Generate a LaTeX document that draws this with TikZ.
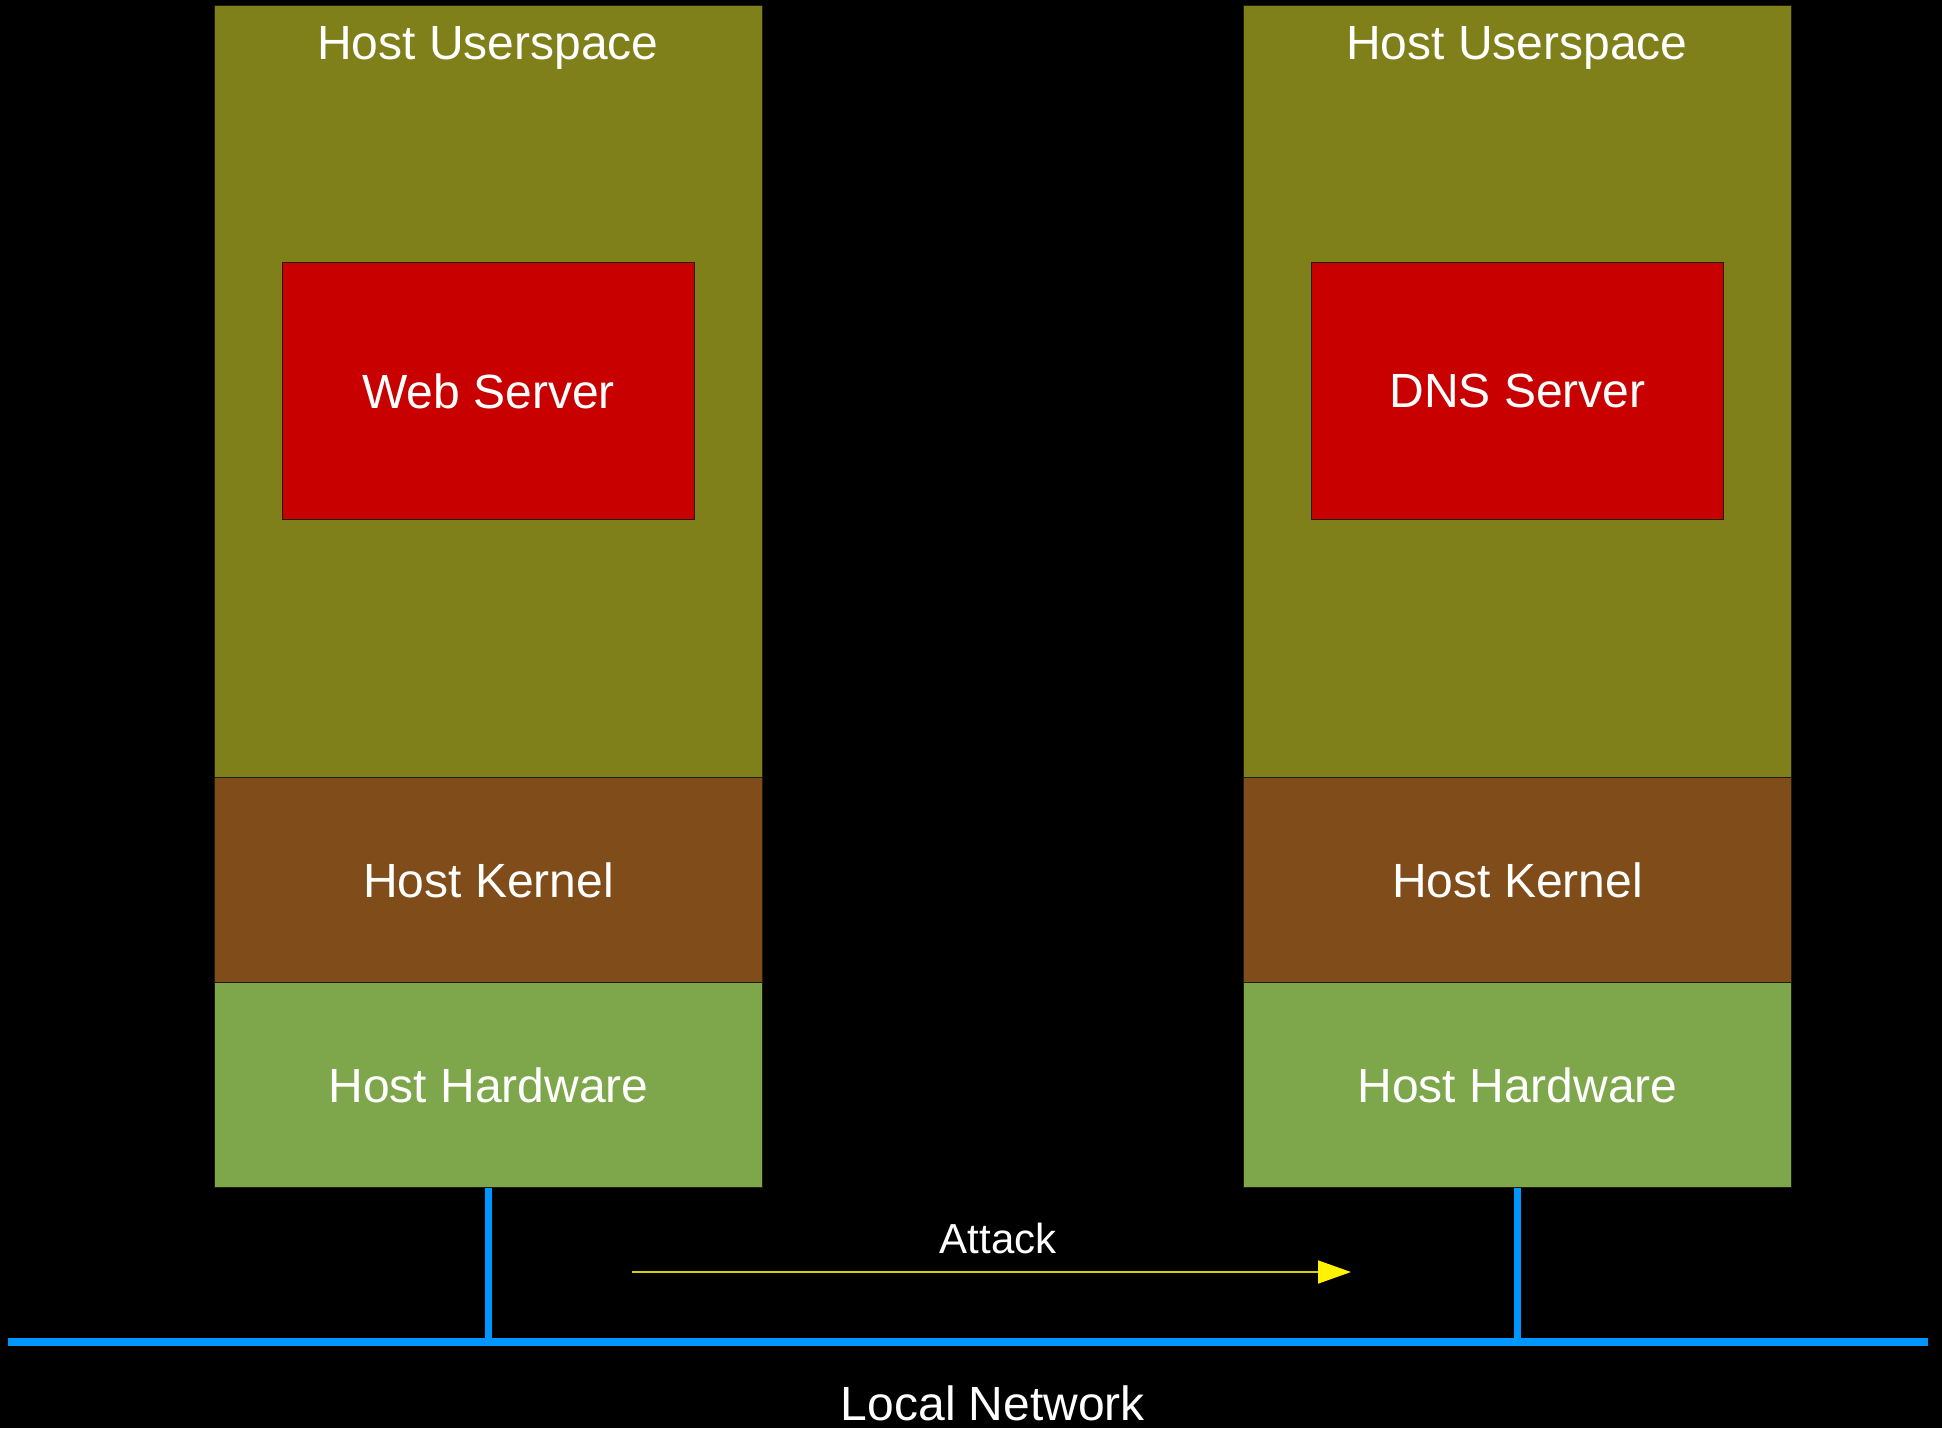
\documentclass[tikz,border=0pt]{standalone}
\usepackage{fontspec}
\setmainfont{Liberation Sans}
\usetikzlibrary{arrows.meta}

\definecolor{olivebg}{RGB}{128,128,26}
\definecolor{kernelbrown}{RGB}{128,77,26}
\definecolor{hwgreen}{RGB}{126,166,74}
\definecolor{srvred}{RGB}{201,0,0}
\definecolor{netblue}{RGB}{0,150,255}
\definecolor{atkline}{RGB}{210,210,0}
\definecolor{edge}{RGB}{30,30,10}

\tikzset{
  layer/.style={draw=edge, line width=1pt, rectangle, anchor=north west,
                inner sep=0pt, minimum width=548pt},
  lbl/.style={text=white, font=\fontsize{48}{56}\selectfont, inner sep=0pt},
  smalllbl/.style={text=white, font=\fontsize{42}{50}\selectfont, inner sep=0pt},
  server/.style={layer, fill=srvred, minimum width=412pt, minimum height=257pt},
  netline/.style={draw=netblue, line width=7.5pt},
  uplink/.style={draw=netblue, line width=7pt},
  attackarrow/.style={draw=atkline, line width=1.5pt,
                      -{Triangle[length=33pt,width=23pt,fill=yellow,color=yellow]}},
}

\begin{document}
\begin{tikzpicture}[x=1pt, y=-1pt]
  % canvas
  \fill[black] (0,0) rectangle (1942,1428);
  \useasboundingbox (0,0) rectangle (1942,1428);

  % left host stack
  \node[layer, fill=olivebg, minimum height=772pt] (us1) at (214,5) {};
  \node[layer, fill=kernelbrown, minimum height=205pt] (k1) at (214,777) {};
  \node[layer, fill=hwgreen, minimum height=205pt] (hw1) at (214,982) {};
  \node[server] (web) at (282,262) {};
  \node[lbl, anchor=base] (us1lbl) at (488,59) {Host Userspace};
  \node[lbl] (weblbl) at (web.center) {Web Server};
  \node[lbl] (k1lbl) at (k1.center) {Host Kernel};
  \node[lbl] (hw1lbl) at (hw1.center) {Host Hardware};

  % right host stack
  \node[layer, fill=olivebg, minimum height=772pt] (us2) at (1243,5) {};
  \node[layer, fill=kernelbrown, minimum height=205pt] (k2) at (1243,777) {};
  \node[layer, fill=hwgreen, minimum height=205pt] (hw2) at (1243,982) {};
  \node[server] (dns) at (1311,262) {};
  \node[lbl, anchor=base] (us2lbl) at (1517,59) {Host Userspace};
  \node[lbl] (dnslbl) at (dns.center) {DNS Server};
  \node[lbl] (k2lbl) at (k2.center) {Host Kernel};
  \node[lbl] (hw2lbl) at (hw2.center) {Host Hardware};

  % local network bus
  \coordinate (netL) at (8,1342);
  \coordinate (netR) at (1928,1342);
  \draw[uplink] (hw1.south) -- (hw1.south |- netL);
  \draw[uplink] (hw2.south) -- (hw2.south |- netL);
  \draw[netline] (netL) -- (netR);
  \node[lbl, anchor=base] (netlbl) at (993,1420) {Local Network};

  % attack arrow
  \coordinate (atkS) at (632,1272);
  \coordinate (atkE) at (1351,1272);
  \draw[attackarrow] (atkS) -- (atkE);
  \node[smalllbl, anchor=base] (atklbl) at (998,1253) {Attack};
\end{tikzpicture}
\end{document}
